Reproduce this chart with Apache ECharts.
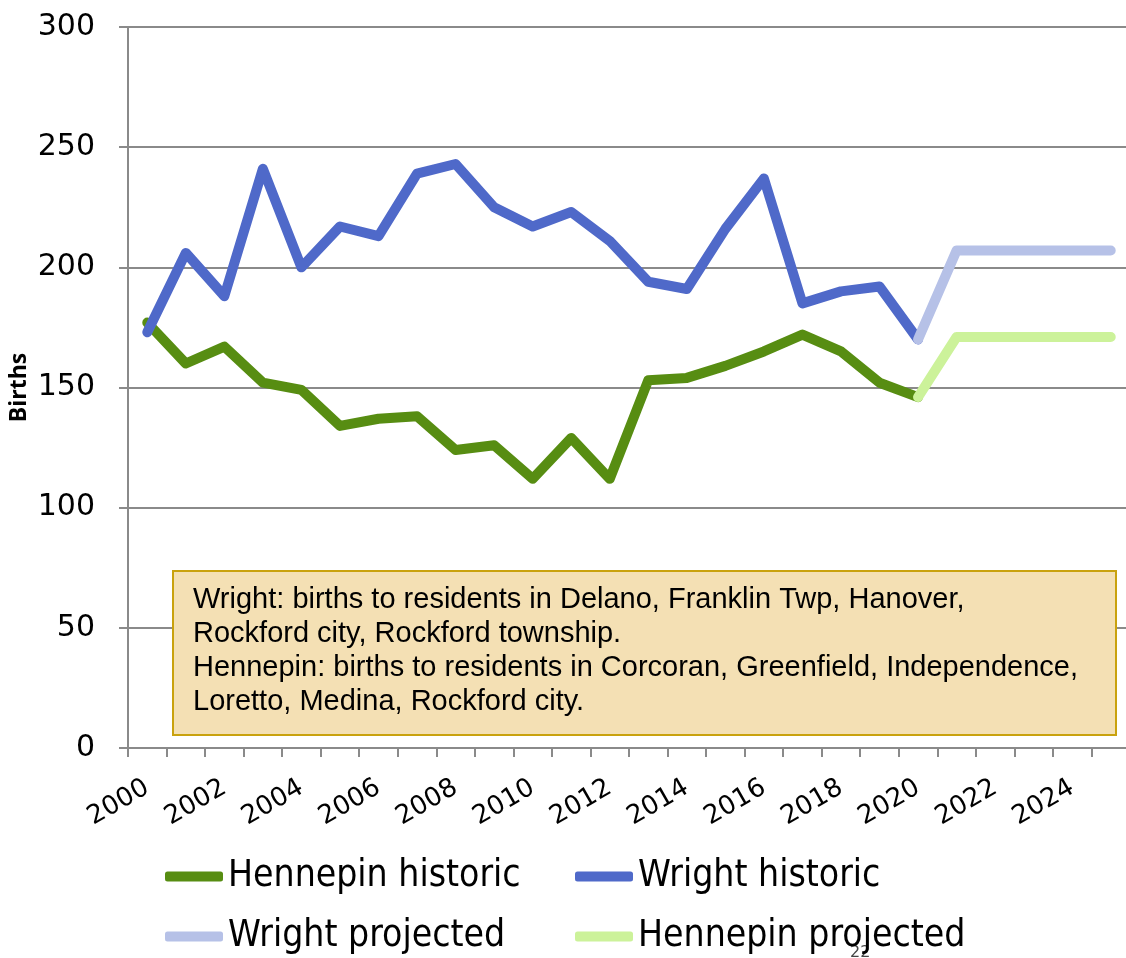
<!DOCTYPE html>
<html>
<head>
<meta charset="utf-8">
<script src="https://cdn.jsdelivr.net/npm/echarts@6/dist/echarts.min.js"></script>
<style>
  html, body { margin: 0; padding: 0; background: #fff; }
  #main { width: 1126px; height: 958px; }
</style>
</head>
<body>
<div id="main"></div>
<script>
// categories (years)
var years = ['2000', '2001', '2002', '2003', '2004', '2005', '2006', '2007', '2008', '2009',
  '2010', '2011', '2012', '2013', '2014', '2015', '2016', '2017', '2018', '2019',
  '2020', '2021', '2022', '2023', '2024', '2025'];

// births
var hennepinHistoric = [177, 160, 167, 152, 149, 134, 137, 138, 124, 126,
  112, 129, 112, 153, 154, 159, 165, 172, 165, 152,
  146, null, null, null, null, null];
var wrightHistoric = [173, 206, 188, 241, 200, 217, 213, 239, 243, 225,
  217, 223, 211, 194, 191, 216, 237, 185, 190, 192,
  170, null, null, null, null, null];
var wrightProjected = [null, null, null, null, null, null, null, null, null, null,
  null, null, null, null, null, null, null, null, null, null,
  170, 207, 207, 207, 207, 207];
var hennepinProjected = [null, null, null, null, null, null, null, null, null, null,
  null, null, null, null, null, null, null, null, null, null,
  146, 171, 171, 171, 171, 171];

var noteLines = [
  'Wright: births to residents in Delano, Franklin Twp, Hanover,',
  'Rockford city, Rockford township.',
  'Hennepin: births to residents in Corcoran, Greenfield, Independence,',
  'Loretto, Medina, Rockford city.'
];

var axisGray = '#8a8a8a';

function lineSeries(name, data, color) {
  return {
    name: name,
    type: 'line',
    data: data,
    symbol: 'none',
    showSymbol: false,
    connectNulls: false,
    color: color,
    lineStyle: { color: color, width: 10, cap: 'round', join: 'round' },
    emphasis: { disabled: true }
  };
}

var myChart = echarts.init(document.getElementById('main'));

var legendText = {
  fontFamily: '"DejaVu Sans Condensed", "DejaVu Sans", sans-serif',
  fontSize: 37,
  lineHeight: 37,
  color: '#000'
};

var option = {
  animation: false,
  grid: {
    left: 128, top: 27, width: 1002, height: 721,
    containLabel: false,
    outerBoundsMode: 'none'
  },
  legend: [{
    orient: 'vertical',
    left: 165, top: 858,
    padding: 0,
    itemWidth: 58, itemHeight: 10, itemGap: 23,
    icon: 'roundRect',
    textStyle: legendText,
    data: ['Hennepin historic', 'Wright projected']
  }, {
    orient: 'vertical',
    left: 575, top: 858,
    padding: 0,
    itemWidth: 58, itemHeight: 10, itemGap: 23,
    icon: 'roundRect',
    textStyle: legendText,
    data: ['Wright historic', 'Hennepin projected']
  }],
  xAxis: {
    type: 'category',
    data: years,
    boundaryGap: true,
    axisLine: { lineStyle: { color: axisGray, width: 2 } },
    axisTick: { show: true, interval: 0, length: 9, lineStyle: { color: axisGray, width: 2 } },
    axisLabel: {
      interval: 1,
      rotate: 30,
      margin: 38,
      color: '#000',
      fontSize: 26,
      fontFamily: '"DejaVu Sans", sans-serif'
    },
    splitLine: { show: false }
  },
  yAxis: {
    type: 'value',
    min: 0, max: 300, interval: 50,
    name: 'Births',
    nameLocation: 'middle',
    nameRotate: 90,
    nameGap: 97,
    nameMoveOverlap: false,
    nameTextStyle: {
      color: '#000',
      fontSize: 23,
      fontWeight: 'bold',
      fontFamily: '"Open Sans", "DejaVu Sans", sans-serif'
    },
    axisLine: { show: true, lineStyle: { color: axisGray, width: 2 } },
    axisTick: { show: true, length: 9, lineStyle: { color: axisGray, width: 2 } },
    axisLabel: {
      margin: 33,
      padding: [5, 0, 0, 0],
      color: '#000',
      fontSize: 30,
      fontFamily: '"DejaVu Sans", sans-serif'
    },
    splitLine: { show: true, lineStyle: { color: axisGray, width: 2 } }
  },
  series: [
    lineSeries('Hennepin historic', hennepinHistoric, '#578d12'),
    lineSeries('Wright historic', wrightHistoric, '#4f69c9'),
    lineSeries('Wright projected', wrightProjected, '#b6c1e7'),
    lineSeries('Hennepin projected', hennepinProjected, '#ccf29a')
  ],
  graphic: [{
    type: 'group',
    left: 172, top: 570,
    z: 100,
    children: [{
      type: 'rect',
      z: 100,
      shape: { x: 0, y: 0, width: 943, height: 164 },
      style: { fill: '#f4e0b4', stroke: '#c9a20e', lineWidth: 2 }
    }, {
      type: 'text',
      z: 101,
      x: 20, y: 12,
      style: {
        text: noteLines.join('\n'),
        fill: '#000',
        font: '29px "Liberation Sans", Arial, sans-serif',
        lineHeight: 34,
        verticalAlign: 'top'
      }
    }]
  }, {
    type: 'text',
    left: 850, top: 945,
    style: { text: '22', fill: '#444', font: '16px "DejaVu Sans", sans-serif' }
  }]
};

myChart.setOption(option);
</script>
</body>
</html>
